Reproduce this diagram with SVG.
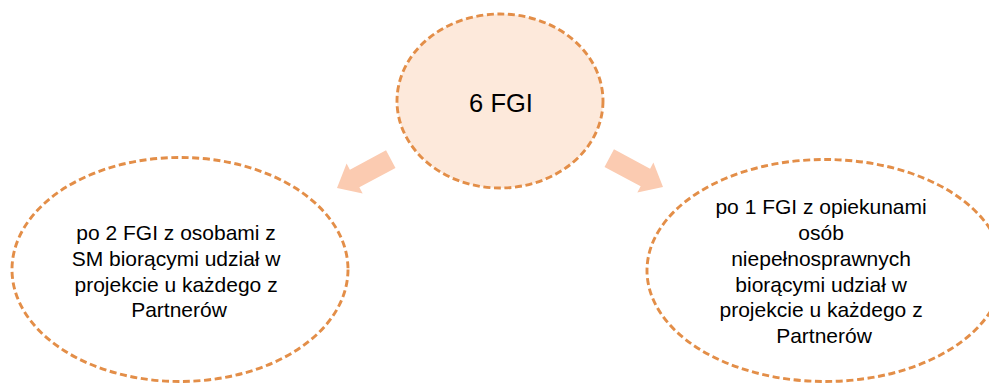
<svg xmlns="http://www.w3.org/2000/svg" width="989" height="383" viewBox="0 0 989 383">
  <style>
    .node { stroke: #E38E48; stroke-width: 2.9; stroke-dasharray: 7 3.6; }
    .hub { fill: #FDE9DB; }
    .leaf { fill: #FFFFFF; }
    .label { font-family: "Liberation Sans", Arial, sans-serif; fill: #000000; text-anchor: middle; }
    .big { font-size: 25.5px; }
    .small { font-size: 21px; }
    .arrow { fill: #FBCBB1; }
  </style>
  <defs>
    <polygon id="blockArrow" points="-61,-10 -20,-10 -20,-17 0,0 -20,17 -20,10 -61,10"/>
  </defs>
  <rect width="989" height="383" fill="#FFFFFF"/>

  <g id="connectors">
    <use href="#blockArrow" class="arrow" transform="translate(337,188) rotate(151.8)"/>
    <use href="#blockArrow" class="arrow" transform="translate(663,187) rotate(28.2)"/>
  </g>

  <g id="hub">
    <ellipse class="node hub" cx="500" cy="101" rx="103" ry="87"/>
    <text class="label big" x="501" y="112">6 FGI</text>
  </g>

  <g id="left-node">
    <ellipse class="node leaf" cx="180" cy="269.5" rx="168" ry="112"/>
    <text class="label small" x="179">
      <tspan x="179" y="240">po 2 FGI z osobami z</tspan>
      <tspan x="179" y="266">SM biorącymi udział w</tspan>
      <tspan x="179" y="292">projekcie u każdego z</tspan>
      <tspan x="179" y="317">Partnerów</tspan>
    </text>
  </g>

  <g id="right-node">
    <ellipse class="node leaf" cx="825" cy="270.5" rx="178" ry="111"/>
    <text class="label small" x="824">
      <tspan x="824" y="214">po 1 FGI z opiekunami</tspan>
      <tspan x="824" y="240">osób</tspan>
      <tspan x="824" y="266">niepełnosprawnych</tspan>
      <tspan x="824" y="292">biorącymi udział w</tspan>
      <tspan x="824" y="317">projekcie u każdego z</tspan>
      <tspan x="824" y="343">Partnerów</tspan>
    </text>
  </g>
</svg>
